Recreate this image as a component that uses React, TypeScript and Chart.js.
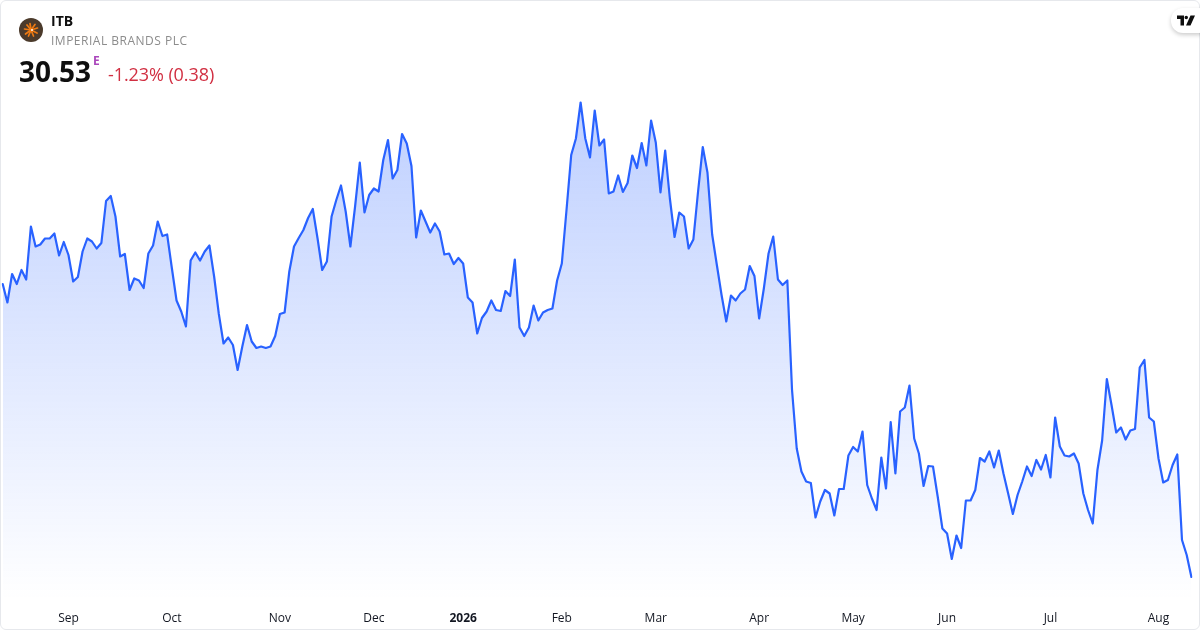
import React, { useEffect, useRef } from "react";
import { Chart, registerables } from "chart.js";

Chart.register(...registerables);

const prices: number[] = [
  36.39, 36.02, 36.59, 36.39, 36.67, 36.48, 37.54, 37.14, 37.18, 37.30, 37.30, 37.40, 36.96, 37.23, 36.97, 36.44, 36.53, 37.04, 37.30, 37.24,
  37.10, 37.21, 38.05, 38.15, 37.74, 36.94, 36.99, 36.27, 36.50, 36.46, 36.31, 37.00, 37.16, 37.64, 37.35, 37.38, 36.71, 36.06, 35.84, 35.54,
  36.86, 37.02, 36.86, 37.04, 37.16, 36.54, 35.79, 35.20, 35.32, 35.17, 34.67, 35.14, 35.57, 35.24, 35.11, 35.14, 35.11, 35.14, 35.35, 35.79,
  35.82, 36.64, 37.14, 37.31, 37.47, 37.71, 37.89, 37.31, 36.67, 36.84, 37.74, 38.07, 38.36, 37.84, 37.14, 37.94, 38.82, 37.82, 38.17, 38.30,
  38.24, 38.87, 39.27, 38.50, 38.67, 39.39, 39.20, 38.75, 37.32, 37.86, 37.64, 37.42, 37.60, 37.44, 36.98, 37.00, 36.79, 36.91, 36.80, 36.12,
  36.02, 35.40, 35.71, 35.84, 36.06, 35.87, 35.85, 36.25, 36.15, 36.88, 35.52, 35.35, 35.52, 35.96, 35.66, 35.82, 35.87, 35.90, 36.46, 36.80,
  37.87, 38.97, 39.30, 40.02, 39.30, 38.92, 39.86, 39.16, 39.28, 38.20, 38.24, 38.56, 38.23, 38.41, 38.96, 38.71, 39.21, 38.76, 39.66, 39.22,
  38.22, 39.06, 38.10, 37.33, 37.82, 37.74, 37.10, 37.28, 38.24, 39.13, 38.62, 37.38, 36.77, 36.17, 35.64, 36.16, 36.06, 36.20, 36.28, 36.75,
  36.55, 35.70, 36.30, 37.00, 37.34, 36.48, 36.37, 36.46, 34.27, 33.10, 32.64, 32.44, 32.41, 31.72, 32.04, 32.27, 32.20, 31.76, 32.29, 32.29,
  32.96, 33.13, 33.04, 33.44, 32.37, 32.10, 31.87, 32.92, 32.30, 33.63, 32.60, 33.84, 33.92, 34.36, 33.30, 33.00, 32.35, 32.75, 32.74, 32.14,
  31.50, 31.40, 30.89, 31.36, 31.11, 32.06, 32.06, 32.27, 32.91, 32.84, 33.04, 32.72, 33.06, 32.60, 32.20, 31.79, 32.17, 32.44, 32.74, 32.55,
  32.87, 32.68, 32.97, 32.52, 33.72, 33.14, 32.96, 32.94, 33.00, 32.80, 32.20, 31.87, 31.60, 32.67, 33.26, 34.49, 33.97, 33.42, 33.52, 33.28,
  33.46, 33.49, 34.72, 34.87, 33.72, 33.64, 32.90, 32.42, 32.47, 32.77, 32.98, 31.27, 30.97, 30.53,
];

const tickLabels: string[] = ["Sep", "Oct", "Nov", "Dec", "2026", "Feb", "Mar", "Apr", "May", "Jun", "Jul", "Aug"];
const tickPositions: number[] = [14, 36, 59, 79, 98, 119, 139, 161, 181, 201, 223, 246];

const FONT = '"Open Sans", sans-serif';

export default function App() {
  const ref = useRef<HTMLCanvasElement>(null);

  useEffect(() => {
    document.body.style.margin = "0";
    const canvas = ref.current!;
    const labels = prices.map((_, i) => {
      const k = tickPositions.indexOf(i);
      return k >= 0 ? tickLabels[k] : "";
    });
    const chart = new Chart(canvas, {
      type: "line",
      data: {
        labels,
        datasets: [
          {
            data: prices,
            borderColor: "#2962ff",
            borderWidth: 2.2,
            borderJoinStyle: "round",
            borderCapStyle: "round",
            pointRadius: 0,
            tension: 0,
            fill: "start",
            backgroundColor: (c: any) => {
              const g = c.chart.ctx.createLinearGradient(0, 100, 0, 600);
              g.addColorStop(0, "rgba(41,98,255,0.3)");
              g.addColorStop(1, "rgba(41,98,255,0)");
              return g;
            },
          },
        ],
      },
      options: {
        animation: false,
        responsive: false,
        devicePixelRatio: 1,
        layout: { padding: { left: 2.7, right: 8.6, top: 0, bottom: 0 } },
        plugins: { legend: { display: false }, tooltip: { enabled: false } },
        scales: {
          x: {
            type: "category",
            offset: false,
            grid: { display: false },
            border: { display: false },
            afterFit: (s: any) => {
              s.height = 30;
              s.paddingLeft = 0;
              s.paddingRight = 0;
            },
            ticks: {
              autoSkip: false,
              maxRotation: 0,
              minRotation: 0,
              padding: 3,
              color: "#131722",
              font: (c: any) => ({
                family: FONT,
                size: 12,
                weight: c.tick && c.tick.label === "2026" ? "bold" : "normal",
              }),
            },
          },
          y: { display: false, min: 30.07, max: 42.07 },
        },
      },
    });
    return () => chart.destroy();
  }, []);

  const abs = (s: React.CSSProperties): React.CSSProperties => ({
    position: "absolute",
    whiteSpace: "nowrap",
    fontFamily: FONT,
    ...s,
  });

  return (
    <div style={{ position: "fixed", left: 0, top: 0, width: 1200, height: 630, background: "#fff", overflow: "hidden" }}>
      <canvas ref={ref} width={1200} height={630} style={{ position: "absolute", left: 0, top: 0, width: 1200, height: 630 }} />
      <div
        style={{
          position: "absolute",
          left: 0,
          top: 0,
          width: 1200,
          height: 630,
          boxSizing: "border-box",
          border: "1px solid #e6e8ec",
          borderRadius: 6,
          pointerEvents: "none",
        }}
      />
      <svg style={{ position: "absolute", left: 19, top: 18 }} width={24} height={24} viewBox="0 0 24 24">
        <circle cx={12} cy={12} r={12} fill="#4b3a2b" />
        <g stroke="#ee7a12" strokeWidth={1.7} strokeLinecap="round">
          <line x1={12} y1={12} x2={11} y2={5.5} />
          <line x1={12} y1={12} x2={8} y2={7} />
          <line x1={12} y1={12} x2={16} y2={6.5} />
          <line x1={12} y1={12} x2={5.5} y2={11} />
          <line x1={12} y1={12} x2={18.5} y2={10} />
          <line x1={12} y1={12} x2={6.5} y2={16} />
          <line x1={12} y1={12} x2={18} y2={15} />
          <line x1={12} y1={12} x2={9.5} y2={18} />
          <line x1={12} y1={12} x2={14.5} y2={18} />
        </g>
        <circle cx={13} cy={12} r={1} fill="#fff" />
      </svg>
      <div style={abs({ left: 51, top: 12, fontSize: 14, lineHeight: "18px", fontWeight: 700, color: "#0f0f0f" })}>ITB</div>
      <div style={abs({ left: 51, top: 32, fontSize: 12, lineHeight: "18px", letterSpacing: 0.5, color: "#8c8c8c" })}>IMPERIAL BRANDS PLC</div>
      <div style={abs({ left: 19, top: 52, fontSize: 28, lineHeight: "38px", fontWeight: 700, color: "#0f0f0f" })}>30.53</div>
      <div style={abs({ left: 93, top: 54, fontSize: 12, lineHeight: "14px", fontWeight: 700, color: "#ab47bc" })}>E</div>
      <div style={abs({ left: 108, top: 62, fontSize: 18, lineHeight: "24px", letterSpacing: -0.08, color: "#d12f42" })}>-1.23% (0.38)</div>
      <div
        style={{
          position: "absolute",
          left: 1171,
          top: 8,
          width: 40,
          height: 25,
          borderRadius: 12,
          background: "#fff",
          boxShadow: "0 2px 4px rgba(0,0,0,0.2)",
        }}
      />
      <svg style={{ position: "absolute", left: 1177, top: 15 }} width={18} height={11} viewBox="0 0 36 22">
        <path d="M0 1h14v20H7V8H0z M22 5a3.5 3.5 0 1 1 -7 0a3.5 3.5 0 1 1 7 0z M27 1h9l-9 20h-9z" fill="#0f0f0f" />
      </svg>
    </div>
  );
}
